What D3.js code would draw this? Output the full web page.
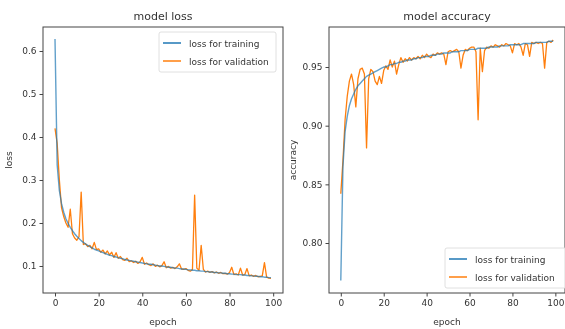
<!DOCTYPE html>
<html>
<head>
<meta charset="utf-8">
<script src="https://cdn.jsdelivr.net/npm/d3@7"></script>
<style>
  body { margin: 0; background: #fff; }
  text { font-family: "DejaVu Sans", sans-serif; fill: #333; }
  svg { filter: blur(0.35px); }
</style>
</head>
<body>
<script>
// Data (epochs 0..99)
var epochs = d3.range(0, 100);

var trainLoss = [0.628,0.335,0.275,0.245,0.225,0.210,0.199,0.190,0.182,0.175,
  0.169,0.164,0.159,0.155,0.151,0.148,0.145,0.142,0.139,0.137,
  0.135,0.133,0.131,0.129,0.127,0.125,0.124,0.122,0.121,0.119,
  0.118,0.117,0.115,0.114,0.113,0.112,0.111,0.110,0.109,0.108,
  0.107,0.106,0.105,0.104,0.104,0.103,0.102,0.101,0.100,0.100,
  0.099,0.098,0.097,0.097,0.096,0.095,0.095,0.094,0.093,0.093,
  0.092,0.091,0.091,0.090,0.090,0.089,0.089,0.088,0.088,0.087,
  0.087,0.086,0.086,0.085,0.085,0.084,0.084,0.083,0.083,0.082,
  0.082,0.081,0.081,0.080,0.080,0.080,0.079,0.079,0.078,0.078,
  0.077,0.077,0.076,0.076,0.075,0.075,0.074,0.074,0.073,0.073];

var valLoss = [0.420,0.385,0.300,0.235,0.215,0.200,0.190,0.232,0.175,0.165,
  0.160,0.168,0.272,0.150,0.152,0.145,0.148,0.140,0.155,0.138,
  0.140,0.132,0.137,0.128,0.135,0.126,0.132,0.120,0.131,0.118,
  0.122,0.115,0.113,0.118,0.110,0.112,0.108,0.111,0.106,0.110,
  0.120,0.104,0.107,0.103,0.101,0.105,0.099,0.102,0.098,0.101,
  0.110,0.096,0.099,0.095,0.097,0.094,0.098,0.105,0.093,0.092,
  0.094,0.090,0.088,0.092,0.265,0.095,0.090,0.148,0.092,0.086,
  0.088,0.085,0.087,0.084,0.086,0.083,0.085,0.082,0.083,0.081,
  0.085,0.097,0.080,0.082,0.079,0.095,0.079,0.080,0.094,0.077,
  0.079,0.076,0.078,0.075,0.076,0.077,0.108,0.074,0.072,0.071];

var trainAcc = [0.768,0.865,0.895,0.908,0.917,0.923,0.927,0.931,0.934,0.936,
  0.938,0.940,0.942,0.943,0.944,0.945,0.946,0.947,0.948,0.949,
  0.950,0.950,0.951,0.952,0.952,0.953,0.953,0.954,0.954,0.955,
  0.955,0.956,0.956,0.956,0.957,0.957,0.958,0.958,0.958,0.959,
  0.959,0.959,0.960,0.960,0.960,0.961,0.961,0.961,0.962,0.962,
  0.962,0.962,0.963,0.963,0.963,0.963,0.964,0.964,0.964,0.964,
  0.965,0.965,0.965,0.965,0.966,0.966,0.966,0.966,0.966,0.967,
  0.967,0.967,0.967,0.967,0.968,0.968,0.968,0.968,0.968,0.969,
  0.969,0.969,0.969,0.969,0.969,0.970,0.970,0.970,0.970,0.970,
  0.970,0.971,0.971,0.971,0.971,0.971,0.971,0.972,0.972,0.972];

var valAcc = [0.842,0.870,0.905,0.925,0.938,0.944,0.935,0.916,0.940,0.948,
  0.949,0.944,0.881,0.940,0.948,0.946,0.938,0.935,0.942,0.936,
  0.947,0.951,0.948,0.956,0.950,0.955,0.944,0.952,0.958,0.954,
  0.957,0.955,0.958,0.956,0.958,0.957,0.959,0.957,0.960,0.958,
  0.961,0.959,0.958,0.961,0.960,0.962,0.961,0.962,0.961,0.952,
  0.963,0.964,0.963,0.964,0.965,0.963,0.949,0.960,0.965,0.964,
  0.966,0.967,0.967,0.963,0.905,0.966,0.946,0.964,0.967,0.966,
  0.968,0.967,0.969,0.968,0.967,0.969,0.968,0.970,0.969,0.968,
  0.962,0.970,0.969,0.970,0.967,0.960,0.970,0.969,0.959,0.971,
  0.970,0.971,0.970,0.971,0.970,0.949,0.971,0.972,0.971,0.973];

var xTicks = [0, 20, 40, 60, 80, 100];
var lossTicks = [0.1, 0.2, 0.3, 0.4, 0.5, 0.6];
var accTicks = [0.80, 0.85, 0.90, 0.95];
var legendLabels = ["loss for training", "loss for validation"];
var colors = ["#1f77b4", "#ff7f0e"];

var svgWidth = 565;
var svgHeight = 329;

var svg = d3.select("body")
    .append("svg")
    .attr("width", svgWidth)
    .attr("height", svgHeight);

function drawPanel(p) {
    var g = svg.append("g");

    var xScale = d3.scaleLinear()
        .domain([-5.5, 104.5])
        .range([p.left, p.right]);

    var yScale = d3.scaleLinear()
        .domain(p.yDomain)
        .range([p.bottom, p.top]);

    var line = function (vals) {
        return d3.line()
            .x((d, i) => xScale(epochs[i]))
            .y(d => yScale(d))(vals);
    };

    // validation underneath, training blended on top (reads greyish like the reference)
    g.append("path")
        .attr("d", line(p.val))
        .attr("fill", "none")
        .attr("stroke", colors[1])
        .attr("stroke-width", 1.3)
        .attr("stroke-linejoin", "round");
    g.append("path")
        .attr("d", line(p.train))
        .attr("fill", "none")
        .attr("stroke", colors[0])
        .attr("stroke-opacity", 0.7)
        .attr("stroke-width", 1.4)
        .attr("stroke-linejoin", "round");

    // axes
    var bottomAxis = d3.axisBottom(xScale).tickValues(xTicks)
        .tickSize(3.5).tickPadding(3).tickFormat(d3.format("d"));
    var leftAxis = d3.axisLeft(yScale).tickValues(p.yTicks)
        .tickSize(3.5).tickPadding(3).tickFormat(p.yFormat);

    var gx = g.append("g")
        .attr("transform", `translate(0, ${p.bottom})`)
        .call(bottomAxis);
    var gy = g.append("g")
        .attr("transform", `translate(${p.left}, 0)`)
        .call(leftAxis);

    [gx, gy].forEach(function (a) {
        a.select(".domain").remove();
        a.selectAll(".tick line").attr("stroke", "#444");
        a.selectAll(".tick text")
            .style("font-family", "DejaVu Sans")
            .attr("font-size", 9)
            .attr("fill", "#333");
    });

    // frame
    g.append("rect")
        .attr("x", p.left)
        .attr("y", p.top)
        .attr("width", p.right - p.left)
        .attr("height", p.bottom - p.top)
        .attr("fill", "none")
        .attr("stroke", "#444")
        .attr("stroke-width", 1);

    // title + labels
    g.append("text")
        .attr("x", (p.left + p.right) / 2)
        .attr("y", p.top - 7)
        .attr("text-anchor", "middle")
        .attr("font-size", 11)
        .text(p.title);

    g.append("text")
        .attr("x", (p.left + p.right) / 2)
        .attr("y", 325)
        .attr("text-anchor", "middle")
        .attr("font-size", 9)
        .text("epoch");

    g.append("text")
        .attr("transform", `translate(${p.ylabelX}, ${(p.top + p.bottom) / 2}) rotate(-90)`)
        .attr("text-anchor", "middle")
        .attr("font-size", 9)
        .text(p.ylabel);

    // legend
    var lg = g.append("g")
        .attr("transform", `translate(${p.legX}, ${p.legY})`);
    lg.append("rect")
        .attr("width", p.legW)
        .attr("height", 40)
        .attr("rx", 2)
        .attr("fill", "#fff")
        .attr("fill-opacity", 0.8)
        .attr("stroke", "#d8d8d8")
        .attr("stroke-width", 0.8);
    legendLabels.forEach(function (lab, i) {
        lg.append("line")
            .attr("x1", 4).attr("x2", 22)
            .attr("y1", 11 + i * 18).attr("y2", 11 + i * 18)
            .attr("stroke", colors[i])
            .attr("stroke-width", 1.5);
        lg.append("text")
            .attr("x", 30)
            .attr("y", 14.5 + i * 18)
            .attr("font-size", 9)
            .text(lab);
    });
}

drawPanel({
    left: 43, right: 283, top: 27, bottom: 293,
    yDomain: [0.0372, 0.6558], yTicks: lossTicks, yFormat: d3.format(".1f"),
    train: trainLoss, val: valLoss,
    title: "model loss", ylabel: "loss", ylabelX: 12,
    legX: 159, legY: 32, legW: 117
});

drawPanel({
    left: 329, right: 565, top: 27, bottom: 293,
    yDomain: [0.7574, 0.9841], yTicks: accTicks, yFormat: d3.format(".2f"),
    train: trainAcc, val: valAcc,
    title: "model accuracy", ylabel: "accuracy", ylabelX: 296,
    legX: 445, legY: 248, legW: 122
});
</script>
</body>
</html>
